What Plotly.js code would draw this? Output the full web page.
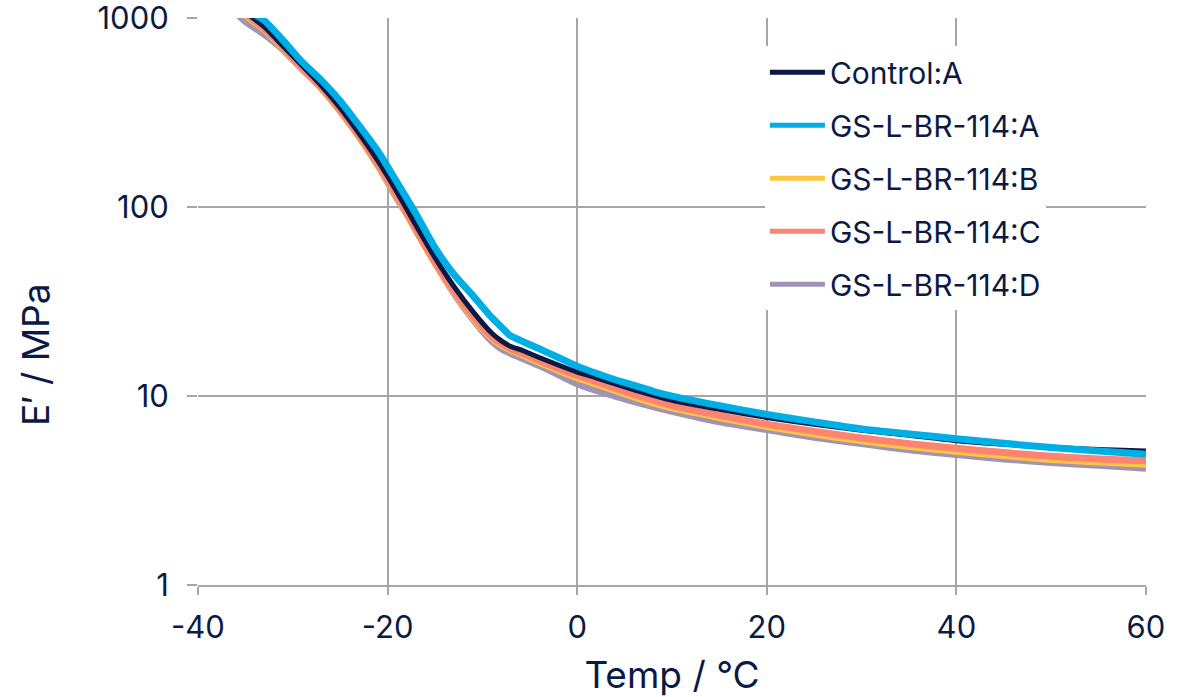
<!DOCTYPE html>
<html><head><meta charset="utf-8">
<script src="https://cdn.plot.ly/plotly-3.0.1.min.js"></script>
<style>html,body{margin:0;padding:0;background:#fff}#c{width:1198px;height:697px}</style>
</head><body><div id="c"></div>
<script>
const temps = [-37,-35,-33,-31,-29,-27,-25,-23,-21,-19,-17,-15,-13,-11,-9,-8,-7,-6,-4,-2,0,2,4,6,8,10,15,20,25,30,35,40,45,50,55,60];
const controlA = [1400,1080,900,710,560,440,335,245,175,120,80,54,38,28,21.5,19.6,18.3,17.6,16.0,14.6,13.4,12.5,11.6,10.8,10.1,9.5,8.5,7.7,7.1,6.6,6.2,5.8,5.55,5.35,5.22,5.12];
const gsA = [1500,1130,970,760,585,470,365,270,197,135,92,61,44,34,26,23.2,20.8,19.7,17.8,16.0,14.4,13.2,12.2,11.4,10.6,10.0,8.9,8.0,7.3,6.7,6.3,5.95,5.62,5.35,5.12,4.92];
const gsB = [1330,1040,870,690,540,425,322,236,166,113,75,50.5,35.5,26,20.2,18.6,17.5,16.7,15.1,13.7,12.5,11.6,10.7,9.9,9.2,8.65,7.7,6.9,6.3,5.8,5.4,5.1,4.85,4.62,4.47,4.36];
const gsC = [1350,1060,880,700,545,430,325,238,168,115,76,51,36,26.5,20.5,19.0,17.8,17.0,15.4,14.0,12.9,11.9,11.0,10.2,9.5,8.9,7.9,7.1,6.5,6.0,5.6,5.3,5.02,4.8,4.65,4.55];
const gsD = [1200,960,820,680,535,430,322,236,165,111,77,51,35,25.5,19.5,17.8,16.8,16.0,14.5,13.0,11.6,10.7,10.0,9.35,8.8,8.3,7.3,6.65,6.05,5.6,5.2,4.9,4.65,4.45,4.3,4.15];

const xTickVals = [-40,-20,0,20,40,60];
const xTickText = ['-40','-20','0','20','40','60'];
const yTickVals = [1,10,100,1000];
const yTickText = ['1','10','100','1000'];

const names = ['Control:A','GS-L-BR-114:A','GS-L-BR-114:B','GS-L-BR-114:C','GS-L-BR-114:D'];
const colors = ['#0b1a45','#00aee6','#fdc543','#fc8470','#a193b3'];
const series = [controlA, gsA, gsB, gsC, gsD];
const widths = [5,7,7,7,7];
const drawOrder = [4,2,3,0,1];

const traces = drawOrder.map(i => ({
  x: temps, y: series[i], name: names[i], type: 'scatter', mode: 'lines',
  line: {color: colors[i], width: widths[i], shape: 'spline', smoothing: 0.6},
  legendrank: i + 1, legendgroup: 'g' + i, cliponaxis: true
}));

const font = {family: 'Inter, "Open Sans", sans-serif', color: '#0b1a45'};
const layout = {
  width: 1198, height: 697,
  margin: {l: 198, r: 52, t: 18, b: 112},
  paper_bgcolor: '#fff', plot_bgcolor: '#fff',
  font: Object.assign({size: 30}, font),
  showlegend: true,
  legend: {
    x: 0.598, y: 0.95, xanchor: 'left', yanchor: 'top',
    bgcolor: '#ffffff', borderwidth: 0,
    font: Object.assign({size: 30}, font),
    traceorder: 'grouped', itemwidth: 55, tracegroupgap: 11,
    itemsizing: 'constant'
  },
  xaxis: {
    range: [-40, 60], tickvals: xTickVals, ticktext: xTickText,
    showgrid: true, gridcolor: '#a6a6a6', gridwidth: 2,
    showline: true, linecolor: '#a6a6a6', linewidth: 2,
    ticks: 'outside', ticklen: 8, tickcolor: '#a6a6a6', tickwidth: 2,
    ticklabelstandoff: 6,
    zeroline: false, mirror: false,
    tickfont: Object.assign({size: 31}, font),
    title: {text: 'Temp / °C', font: Object.assign({size: 37}, font), standoff: 22}
  },
  yaxis: {
    type: 'log', range: [0, 3.001],
    tickvals: yTickVals, ticktext: yTickText,
    showgrid: true, gridcolor: '#a6a6a6', gridwidth: 2,
    showline: false, zeroline: false,
    ticks: 'outside', ticklen: 10, tickcolor: '#a6a6a6', tickwidth: 2,
    ticklabelstandoff: 12, ticklabeloverflow: 'allow',
    tickfont: Object.assign({size: 31}, font)
  },
  annotations: [{
    text: 'E′ / MPa', xref: 'paper', yref: 'paper',
    x: -0.172, y: 0.4056, xanchor: 'center', yanchor: 'middle',
    textangle: -90, showarrow: false,
    font: Object.assign({size: 37}, font)
  }]
};
Plotly.newPlot('c', traces, layout, {displayModeBar: false, staticPlot: true});
</script></body></html>
